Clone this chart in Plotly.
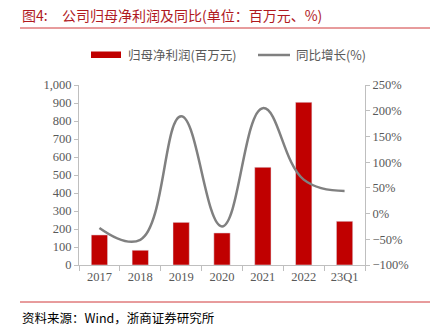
import plotly.graph_objects as go

categories = ["2017", "2018", "2019", "2020", "2021", "2022", "23Q1"]
net_profit = [167, 82, 237, 178, 543, 904, 243]
yoy_growth = [-28, -51, 189, -25, 205, 66, 44]

RED = "#C00000"
GRAY = "#808080"
TICK = "#595959"
AXIS = "#BFBFBF"
SERIF = "Liberation Serif, Times New Roman, serif"
CJK = "Noto Sans CJK SC"

W, H = 433, 335
L, R, T, B = 79, 365, 85, 265

def px(x):
    return (x - L) / (R - L)

def py(y):
    return (B - y) / (B - T)

fig = go.Figure()
fig.add_trace(go.Bar(x=categories, y=net_profit, marker_color=RED,
                     name="归母净利润(百万元)", yaxis="y"))
fig.add_trace(go.Scatter(x=categories, y=yoy_growth, mode="lines",
                         line=dict(color=GRAY, width=2.5, shape="spline", smoothing=1.2),
                         name="同比增长(%)", yaxis="y2"))

fig.update_layout(
    width=W, height=H,
    margin=dict(l=L, r=W - R, t=T, b=H - B),
    paper_bgcolor="white", plot_bgcolor="white",
    showlegend=False,
    bargap=0.6,
    xaxis=dict(type="category", showline=True, linecolor=AXIS, linewidth=1,
               ticks="outside", tickson="boundaries", ticklen=5, tickcolor=AXIS,
               tickfont=dict(family=SERIF, size=12.5, color=TICK), showgrid=False),
    yaxis=dict(range=[0, 1000], dtick=100, tickformat=",", showline=True,
               linecolor=AXIS, ticks="outside", ticklen=4, tickcolor=AXIS,
               tickfont=dict(family=SERIF, size=12.5, color=TICK), showgrid=False,
               zeroline=False),
    yaxis2=dict(range=[-100, 250], dtick=50, ticksuffix="%", overlaying="y",
                side="right", showline=True, linecolor=AXIS, ticks="outside",
                ticklen=4, tickcolor=AXIS,
                tickfont=dict(family=SERIF, size=12.5, color=TICK), showgrid=False,
                zeroline=False),
)

shapes = [
    dict(type="line", xref="paper", yref="paper", x0=px(20), x1=px(430), y0=py(28), y1=py(28),
         line=dict(color="#D0393B", width=1)),
    dict(type="line", xref="paper", yref="paper", x0=px(20), x1=px(430), y0=py(302), y1=py(302),
         line=dict(color="#D0393B", width=1)),
    dict(type="rect", xref="paper", yref="paper", x0=px(91), x1=px(121), y0=py(58), y1=py(51.5),
         fillcolor=RED, line=dict(width=0)),
    dict(type="line", xref="paper", yref="paper", x0=px(258), x1=px(290), y0=py(55), y1=py(55),
         line=dict(color=GRAY, width=2.5)),
]
fig.update_layout(shapes=shapes)

annotations = [
    dict(text="图4:", x=px(20), y=py(15),
         font=dict(family=CJK, size=14, color="#B0191E")),
    dict(text="公司归母净利润及同比(单位：百万元、%)", x=px(60), y=py(15),
         font=dict(family=CJK, size=14, color="#B0191E")),
    dict(text="归母净利润(百万元)", x=px(126), y=py(55),
         font=dict(family=CJK, size=12.5, color="#595959")),
    dict(text="同比增长(%)", x=px(294), y=py(55),
         font=dict(family=CJK, size=12.5, color="#595959")),
    dict(text="资料来源：Wind，浙商证券研究所", x=px(20), y=py(317),
         font=dict(family=CJK, size=12.5, color="#000000")),
]
for a in annotations:
    a.update(xref="paper", yref="paper", xanchor="left", yanchor="middle", showarrow=False)
fig.update_layout(annotations=annotations)

fig.write_html("out.html")
